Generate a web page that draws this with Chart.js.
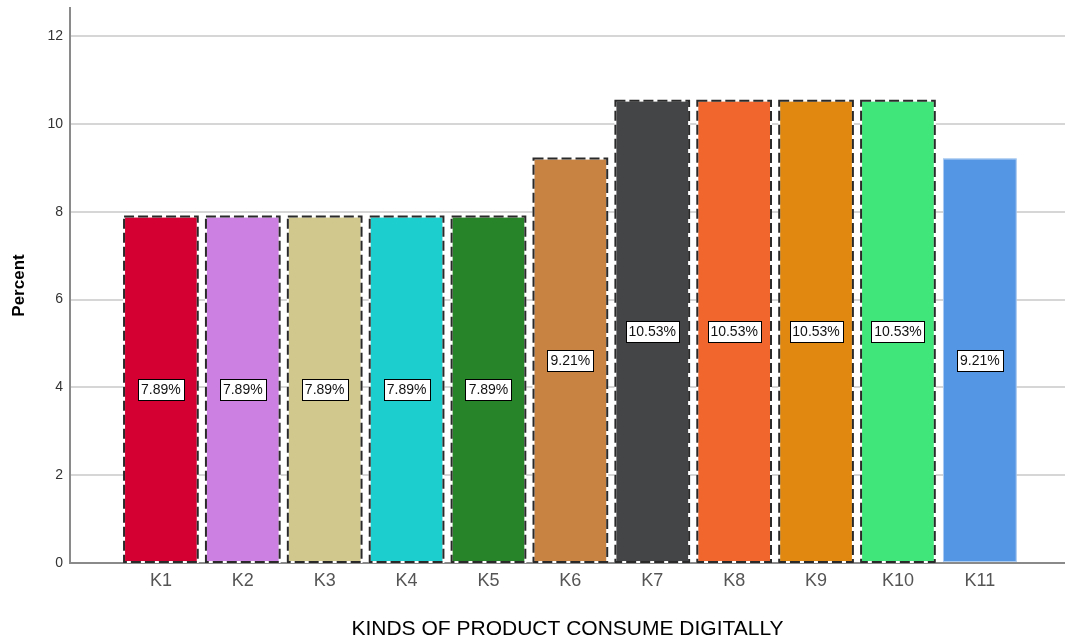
<!DOCTYPE html>
<html>
<head>
<meta charset="utf-8">
<script src="https://cdn.jsdelivr.net/npm/chart.js@4"></script>
<style>
  body { margin: 0; background: #fff; }
  #wrap { width: 1065px; height: 644px; }
</style>
</head>
<body>
<div id="wrap"><canvas id="myChart" width="1065" height="644"></canvas></div>
<script>
const categories = ['K1', 'K2', 'K3', 'K4', 'K5', 'K6', 'K7', 'K8', 'K9', 'K10', 'K11'];
const percents = [7.89, 7.89, 7.89, 7.89, 7.89, 9.21, 10.53, 10.53, 10.53, 10.53, 9.21];
const yTicks = [0, 2, 4, 6, 8, 10, 12];
const barColors = [
    'rgb(213,0,50)',
    'rgb(204,128,226)',
    'rgb(208,200,140)',
    'rgb(28,206,206)',
    'rgb(40,132,40)',
    'rgb(200,130,65)',
    'rgb(68,69,71)',
    'rgb(240,102,45)',
    'rgb(224,136,16)',
    'rgb(64,230,122)',
    'rgb(85,150,228)',
];
// K11 has no dashed outline in the original
const dashed = [true, true, true, true, true, true, true, true, true, true, false];

const font = '"Liberation Sans", Arial, sans-serif';
const ctx = document.getElementById('myChart');

const barDecor = {
    id: 'barDecor',
    afterDatasetsDraw(chart) {
        const {ctx} = chart;
        const meta = chart.getDatasetMeta(0);
        ctx.save();
        meta.data.forEach((bar, i) => {
            const left = bar.x - bar.width / 2;
            const top = bar.y;
            const w = bar.width;
            const h = bar.base - bar.y;
            if (dashed[i]) {
                ctx.lineWidth = 2;
                ctx.setLineDash([]);
                ctx.strokeStyle = '#ffffff';
                ctx.strokeRect(left, top, w, h);
                ctx.setLineDash([10, 4]);
                ctx.strokeStyle = '#2a2a2a';
                ctx.strokeRect(left, top, w, h);
            } else {
                ctx.lineWidth = 1;
                ctx.setLineDash([]);
                ctx.strokeStyle = 'rgba(255,255,255,0.5)';
                ctx.strokeRect(left + 0.5, top + 0.5, w - 1, h - 1);
            }
        });
        ctx.setLineDash([]);

        // value labels in boxes
        ctx.font = '14px ' + font;
        ctx.textAlign = 'center';
        ctx.textBaseline = 'middle';
        meta.data.forEach((bar, i) => {
            const txt = percents[i].toFixed(2) + '%';
            const cy = (bar.y + bar.base) / 2;
            const tw = ctx.measureText(txt).width;
            const bw = Math.round(tw + 6);
            const bh = 21;
            const bx = Math.round(bar.x - bw / 2) + 0.5;
            const by = Math.round(cy - bh / 2) + 0.5;
            ctx.fillStyle = '#ffffff';
            ctx.fillRect(bx, by, bw, bh);
            ctx.lineWidth = 1;
            ctx.strokeStyle = '#000000';
            ctx.strokeRect(bx, by, bw, bh);
            ctx.fillStyle = '#111111';
            ctx.fillText(txt, bar.x, cy + 1);
        });
        ctx.restore();
    }
};

new Chart(ctx, {
    type: 'bar',
    data: {
        datasets: [{
            data: percents.map((v, i) => ({x: i + 1, y: v})),
            backgroundColor: barColors,
            borderWidth: 0,
            barPercentage: 0.9,
            categoryPercentage: 1.0,
        }]
    },
    plugins: [barDecor],
    options: {
        responsive: false,
        animation: false,
        layout: {
            autoPadding: false,
            padding: {top: 8, right: 0, left: 0, bottom: 0}
        },
        plugins: {
            legend: {display: false},
            tooltip: {enabled: false}
        },
        scales: {
            x: {
                type: 'linear',
                offset: false,
                min: -0.11,
                max: 12.04,
                afterBuildTicks(scale) {
                    scale.ticks = categories.map((c, i) => ({value: i + 1}));
                },
                afterFit(scale) {
                    scale.height = 81;
                    scale.paddingLeft = 0;
                    scale.paddingRight = 0;
                },
                grid: {display: false, drawTicks: false},
                border: {display: true, color: '#8a8a8a', width: 2},
                ticks: {
                    padding: 7,
                    color: '#555555',
                    font: {family: font, size: 18},
                    autoSkip: false,
                    maxRotation: 0,
                    callback: (v) => categories[v - 1] || ''
                },
                title: {
                    display: true,
                    text: 'KINDS OF PRODUCT CONSUME DIGITALLY',
                    color: '#000000',
                    font: {family: font, size: 21},
                    padding: {top: 0, bottom: 2}
                }
            },
            y: {
                min: 0,
                max: 12.64,
                afterBuildTicks(scale) {
                    scale.ticks = yTicks.map(v => ({value: v}));
                },
                afterFit(scale) {
                    scale.width = 70;
                    scale.paddingTop = 0;
                    scale.paddingBottom = 0;
                },
                grid: {color: '#d6d6d6', lineWidth: 2, drawTicks: false},
                border: {display: true, color: '#8a8a8a', width: 2},
                ticks: {
                    padding: 7,
                    color: '#333333',
                    font: {family: font, size: 14}
                },
                title: {
                    display: true,
                    text: 'Percent',
                    color: '#000000',
                    font: {family: font, size: 17, weight: 'bold'},
                    padding: {top: 9, bottom: 0}
                }
            }
        }
    }
});
</script>
</body>
</html>
